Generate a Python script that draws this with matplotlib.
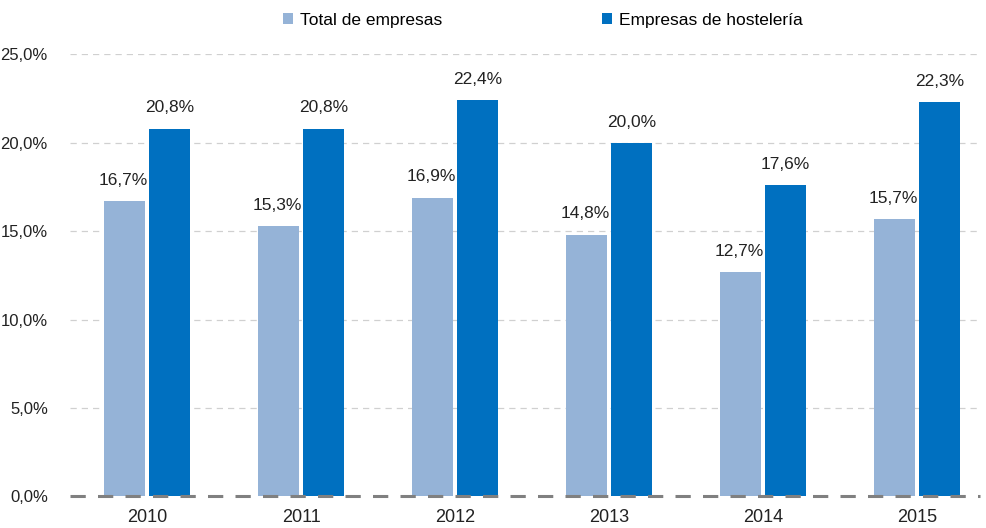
import numpy as np
import matplotlib.pyplot as plt

years = ["2010", "2011", "2012", "2013", "2014", "2015"]
total = [16.7, 15.3, 16.9, 14.8, 12.7, 15.7]
hosteleria = [20.8, 20.8, 22.4, 20.0, 17.6, 22.3]
series_names = ["Total de empresas", "Empresas de hostelería"]

LIGHT = "#95b3d7"
DARK = "#0070c0"

plt.rcParams["font.family"] = ["Liberation Sans", "DejaVu Sans"]


def pct(v):
    return f"{v:.1f}%".replace(".", ",")


fig = plt.figure(figsize=(9.87, 5.28), dpi=100)
ax = fig.add_axes([0.071, 0.06, 0.922, 0.837])

x = np.arange(len(years))
w = 0.266
off = 0.146
b1 = ax.bar(x - off, total, w, color=LIGHT, label=series_names[0], zorder=2)
b2 = ax.bar(x + off, hosteleria, w, color=DARK, label=series_names[1], zorder=2)

for r, v in zip(b1, total):
    ax.text(r.get_x() + r.get_width() / 2 - 0.01, v + 0.75, pct(v),
            ha="center", va="bottom", fontsize=12.5, color="#222222")
for r, v in zip(b2, hosteleria):
    ax.text(r.get_x() + r.get_width() / 2, v + 0.75, pct(v),
            ha="center", va="bottom", fontsize=12.5, color="#222222")

ax.set_ylim(0, 25)
ax.set_xlim(-0.5, 5.41)
ticks = np.arange(0, 26, 5)
ax.set_yticks(ticks)
ax.set_yticklabels([pct(t) for t in ticks], fontsize=12, color="#222222")
ax.set_xticks(x)
ax.set_xticklabels(years, fontsize=13, color="#222222")
ax.tick_params(axis="x", length=0, pad=9)
ax.tick_params(axis="y", length=0, pad=16)

for t in ticks[1:]:
    ax.axhline(t, color="#d0d0d0", lw=0.9, ls=(0, (5, 4)), zorder=1)
ax.axhline(0, color="#808080", lw=2.2, ls=(0, (5, 4)), zorder=3, clip_on=False)

for s in ax.spines.values():
    s.set_visible(False)

fig.legend(handles=[b1, b2], loc="upper center", bbox_to_anchor=(0.55, 1.005),
           ncol=2, frameon=False, fontsize=12.5, handlelength=0.6, handleheight=0.6,
           handletextpad=0.4, columnspacing=9.2)

fig.savefig("out.png", dpi=100)
